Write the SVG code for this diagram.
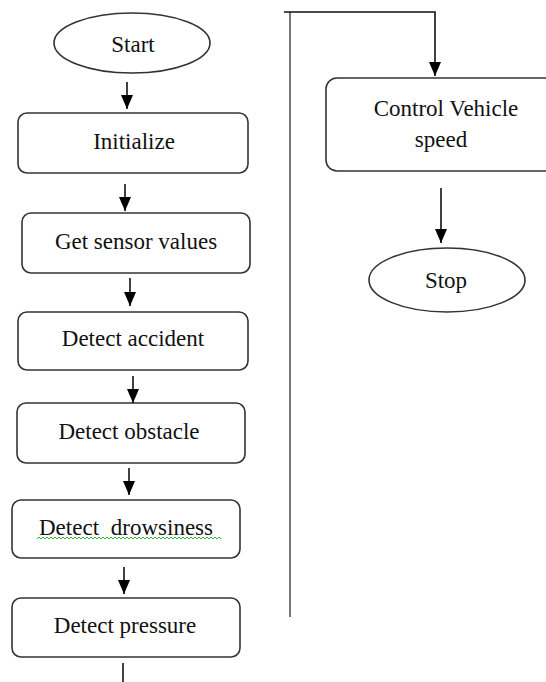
<svg xmlns="http://www.w3.org/2000/svg" width="546" height="682" viewBox="0 0 546 682">
<defs>
<style>
.box{fill:#fff;stroke:#333;stroke-width:1.6}
text{font-family:'Liberation Serif','DejaVu Serif',serif;font-size:23px;fill:#111;text-anchor:middle}
.ln{fill:none;stroke:#111;stroke-width:1.6}
.gl{fill:none;stroke:#777;stroke-width:2}
</style>
<marker id="ah" viewBox="0 0 14 12" refX="14" refY="6" markerWidth="14" markerHeight="12" markerUnits="userSpaceOnUse" orient="auto">
<path d="M0,0 L14,6 L0,12 Z" fill="#000"/>
</marker>
</defs>
<rect width="546" height="682" fill="#fff"/>
<g id="start"><ellipse class="box" cx="132" cy="43" rx="78" ry="30"/><text x="133" y="52">Start</text></g>
<g id="initialize"><rect class="box" x="18" y="113" width="230" height="60" rx="9"/><text x="134" y="149">Initialize</text></g>
<g id="get-sensor"><rect class="box" x="22" y="213" width="228" height="60" rx="9"/><text x="136" y="249">Get sensor values</text></g>
<g id="detect-accident"><rect class="box" x="18" y="312" width="230" height="58" rx="9"/><text x="133" y="346">Detect accident</text></g>
<g id="detect-obstacle"><rect class="box" x="17" y="403" width="228" height="60" rx="9"/><text x="129" y="439">Detect obstacle</text></g>
<g id="detect-drowsiness"><rect class="box" x="12" y="500" width="228" height="58" rx="9"/><text x="126" y="535" word-spacing="6">Detect drowsiness</text>
<path d="M37,539 l2,-2 l2,2 l2,-2 l2,2 l2,-2 l2,2 l2,-2 l2,2 l2,-2 l2,2 l2,-2 l2,2 l2,-2 l2,2 l2,-2 l2,2 l2,-2 l2,2 l2,-2 l2,2 l2,-2 l2,2 l2,-2 l2,2 l2,-2 l2,2 l2,-2 l2,2 l2,-2 l2,2 l2,-2 l2,2 l2,-2 l2,2 l2,-2 l2,2 l2,-2 l2,2 l2,-2 l2,2 l2,-2 l2,2 l2,-2 l2,2 l2,-2 l2,2 l2,-2 l2,2 l2,-2 l2,2 l2,-2 l2,2 l2,-2 l2,2 l2,-2 l2,2 l2,-2 l2,2 l2,-2 l2,2 l2,-2 l2,2 l2,-2 l2,2 l2,-2 l2,2 l2,-2 l2,2 l2,-2 l2,2 l2,-2 l2,2 l2,-2 l2,2 l2,-2 l2,2 l2,-2 l2,2 l2,-2 l2,2 l2,-2 l2,2 l2,-2 l2,2 l2,-2 l2,2 l2,-2 l2,2 l2,-2 l2,2 l2,-2 l2,2" fill="none" stroke="#3cb043" stroke-width="1"/></g>
<g id="detect-pressure"><rect class="box" x="12" y="598" width="228" height="59" rx="9"/><text x="125" y="633">Detect pressure</text></g>
<g id="control-speed"><rect class="box" x="326" y="78" width="232" height="93" rx="11"/><text x="446" y="116">Control Vehicle</text><text x="441" y="147">speed</text></g>
<g id="stop"><ellipse class="box" cx="447" cy="280" rx="78" ry="32"/><text x="446" y="288">Stop</text></g>
<g id="connectors">
<line class="ln" x1="127" y1="82" x2="127" y2="109" marker-end="url(#ah)"/>
<line class="ln" x1="125" y1="184" x2="125" y2="211" marker-end="url(#ah)"/>
<line class="ln" x1="130" y1="278" x2="130" y2="306" marker-end="url(#ah)"/>
<line class="ln" x1="133" y1="376" x2="133" y2="403" marker-end="url(#ah)"/>
<line class="ln" x1="129" y1="468" x2="129" y2="495" marker-end="url(#ah)"/>
<line class="ln" x1="124" y1="567" x2="124" y2="594" marker-end="url(#ah)"/>
<line class="ln" x1="123" y1="663" x2="123" y2="682"/>
<line class="gl" x1="290" y1="12" x2="290" y2="617"/>
<polyline class="ln" points="284,12 435,12 435,76" marker-end="url(#ah)"/>
<line class="ln" x1="441" y1="188" x2="441" y2="243" marker-end="url(#ah)"/>
</g>
</svg>
